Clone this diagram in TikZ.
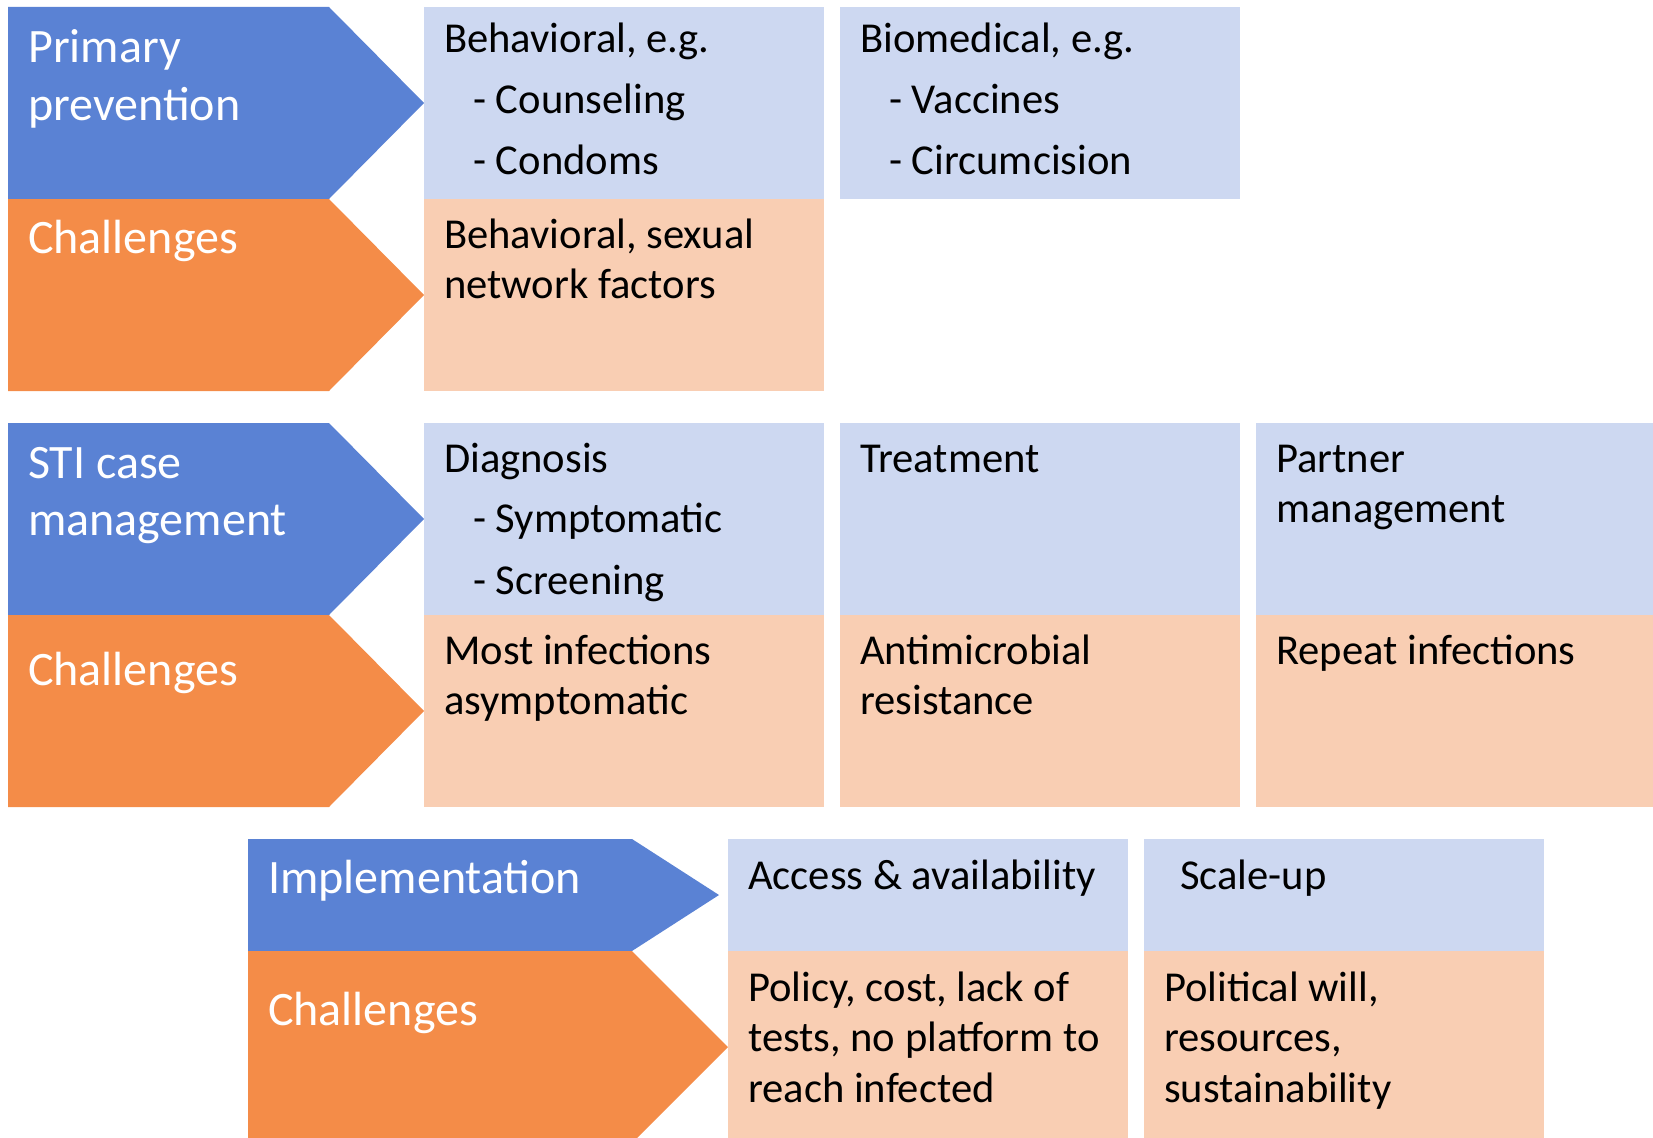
\documentclass[tikz,border=0pt]{standalone}
\usepackage{fontspec}
\setmainfont{Carlito}
\definecolor{chevblue}{RGB}{90,130,212}
\definecolor{chevorange}{RGB}{244,140,72}
\definecolor{boxblue}{RGB}{205,216,241}
\definecolor{boxpeach}{RGB}{249,206,179}
\newcommand{\boxlines}[1]{\parbox[t]{560pt}{#1}}
\begin{document}
\begin{tikzpicture}[x=1pt,y=-1pt,
  wtxt/.style={anchor=base west,inner sep=0pt,text=white,font=\fontsize{48}{57.5}\selectfont},
  btxt/.style={anchor=base west,inner sep=0pt,text=black,font=\fontsize{42.6}{50.5}\selectfont},
  bluefill/.style={fill=boxblue},
  peachfill/.style={fill=boxpeach},
  chevb/.style={fill=chevblue},
  chevo/.style={fill=chevorange}]
\useasboundingbox (0,0) rectangle (1653,1137);
% ---------- row 1 ----------
\fill[chevb] (8,7) -- (329,7) -- (424,103) -- (329,199) -- (8,199) -- cycle;
\fill[chevo] (8,199) -- (329,199) -- (424,295) -- (329,391) -- (8,391) -- cycle;
\fill[bluefill] (424,7) rectangle (824,199);
\fill[peachfill] (424,199) rectangle (824,391);
\fill[bluefill] (840,7) rectangle (1240,199);
\node[wtxt] (pp) at (28,63) {\boxlines{Primary\\prevention}};
\node[wtxt] (ch1) at (28,253) {Challenges};
\node[btxt] (beh) at (444,53) {\boxlines{Behavioral, e.g.\\[10pt]\hspace*{29pt}- Counseling\\[11pt]\hspace*{29pt}- Condoms}};
\node[btxt] (bio) at (860,53) {\boxlines{Biomedical, e.g.\\[10pt]\hspace*{29pt}- Vaccines\\[11pt]\hspace*{29pt}- Circumcision}};
\node[btxt] (behc) at (444,248) {\boxlines{Behavioral, sexual\\network factors}};
% ---------- row 2 ----------
\fill[chevb] (8,423) -- (329,423) -- (424,519) -- (329,615) -- (8,615) -- cycle;
\fill[chevo] (8,615) -- (329,615) -- (424,711) -- (329,807) -- (8,807) -- cycle;
\fill[bluefill] (424,423) rectangle (824,615);
\fill[peachfill] (424,615) rectangle (824,807);
\fill[bluefill] (840,423) rectangle (1240,615);
\fill[peachfill] (840,615) rectangle (1240,807);
\fill[bluefill] (1256,423) rectangle (1660,615);
\fill[peachfill] (1256,615) rectangle (1660,807);
\node[wtxt] (sti) at (28,478) {\boxlines{STI case\\management}};
\node[wtxt] (ch2) at (28,685) {Challenges};
\node[btxt] (diag) at (444,472) {\boxlines{Diagnosis\\[10pt]\hspace*{29pt}- Symptomatic\\[11pt]\hspace*{29pt}- Screening}};
\node[btxt] (treat) at (860,472) {Treatment};
\node[btxt] (partner) at (1276,472) {\boxlines{Partner\\management}};
\node[btxt] (most) at (444,664) {\boxlines{Most infections\\asymptomatic}};
\node[btxt] (amr) at (860,664) {\boxlines{Antimicrobial\\resistance}};
\node[btxt] (rep) at (1276,664) {Repeat infections};
% ---------- row 3 ----------
\fill[chevb] (248,839) -- (632,839) -- (719,895) -- (632,951) -- (248,951) -- cycle;
\fill[chevo] (248,951) -- (632,951) -- (728,1047) -- (632,1143) -- (248,1143) -- cycle;
\fill[bluefill] (728,839) rectangle (1128,951);
\fill[peachfill] (728,951) rectangle (1128,1143);
\fill[bluefill] (1144,839) rectangle (1544,951);
\fill[peachfill] (1144,951) rectangle (1544,1143);
\node[wtxt] (impl) at (268,893) {Implementation};
\node[wtxt] (ch3) at (268,1025) {Challenges};
\node[btxt] (acc) at (748,889) {Access \& availability};
\node[btxt] (scale) at (1180,889) {Scale-up};
\node[btxt] (pol) at (748,1001) {\boxlines{Policy, cost, lack of\\tests, no platform to\\reach infected}};
\node[btxt] (polw) at (1164,1001) {\boxlines{Political will,\\resources,\\sustainability}};
\end{tikzpicture}
\end{document}
